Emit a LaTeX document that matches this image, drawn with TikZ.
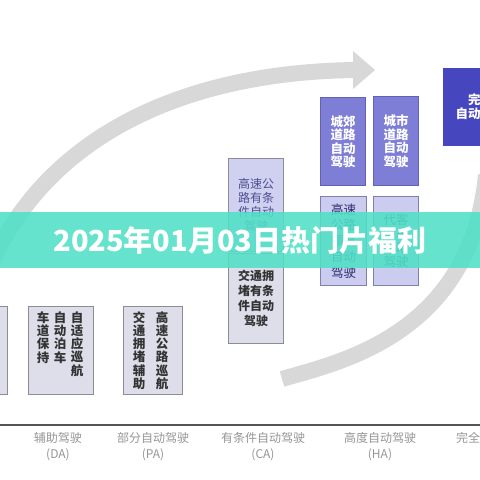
\documentclass[tikz,border=0pt]{standalone}
\usepackage{fontspec}
\setmainfont{Noto Sans CJK SC}
\definecolor{arcgray}{RGB}{216,216,216}
\definecolor{fadark}{RGB}{70,70,190}
\definecolor{hamid}{RGB}{126,126,214}
\definecolor{hamidline}{RGB}{98,98,178}
\definecolor{halight}{RGB}{204,204,240}
\definecolor{halightline}{RGB}{128,128,175}
\definecolor{hatext}{RGB}{45,45,110}
\definecolor{catop}{RGB}{208,208,240}
\definecolor{catext}{RGB}{78,78,145}
\definecolor{lowfill}{RGB}{222,222,234}
\definecolor{boxline}{RGB}{140,140,152}
\definecolor{labelgray}{RGB}{150,150,150}
\definecolor{axisgray}{RGB}{85,85,85}
\definecolor{bannerteal}{RGB}{80,224,198}
\tikzset{
  box/.style={draw=boxline, line width=1pt, fill=lowfill, rectangle, inner sep=0pt, anchor=north west, align=center},
  vcol/.style={inner sep=0pt, align=center, text=black!80, font=\fontsize{12.5}{13.2}\selectfont\bfseries},
  lvl/.style={inner sep=0pt, text=labelgray, font=\fontsize{12}{13}\selectfont},
}
\begin{document}
\begin{tikzpicture}[x=1pt,y=-1pt]
\useasboundingbox (0,0) rectangle (480,480);
\clip (0,0) rectangle (480,480);
\fill[white] (0,0) rectangle (480,480);
% arcs
\coordinate (a0) at (-8,262);
\coordinate (a1) at (356,70);
\draw[arcgray, line width=16pt] (a0) .. controls (50,135) and (185,72) .. (a1);
\fill[arcgray] (353,51) -- (375,70) -- (353,89) -- cycle;
\coordinate (b0) at (282,379);
\coordinate (b1) at (486,175);
\draw[arcgray, line width=16pt] (b0) .. controls (340,362) and (470,335) .. (b1);
% axis
\coordinate (x0) at (0,425);
\coordinate (x1) at (480,425);
\draw[axisgray, line width=2pt] (x0) -- (x1);
% low boxes
\node[box, minimum width=57pt, minimum height=88pt] (lbox) at (-50,306) {};
\node[box, minimum width=65pt, minimum height=88pt] (da) at (28,306) {};
\node[vcol] (da1) at (77,344) {自\\适\\应\\巡\\航};
\node[vcol] (da2) at (60,337.5) {自\\动\\泊\\车};
\node[vcol] (da3) at (43,337.5) {车\\道\\保\\持};
\node[box, minimum width=59pt, minimum height=88pt] (pa) at (123,306) {};
\node[vcol] (pa1) at (162,350.5) {高\\速\\公\\路\\巡\\航};
\node[vcol] (pa2) at (139,350.5) {交\\通\\拥\\堵\\辅\\助};
% CA boxes
\node[box, fill=catop, minimum width=55pt, minimum height=93pt, text=catext,
      font=\fontsize{12}{14.2}\selectfont] (ca1) at (228,158) {高速公\\路有条\\件自动\\驾驶};
\node[box, minimum width=55pt, minimum height=90pt, text=black!80,
      font=\fontsize{12}{15}\selectfont\bfseries] (ca2) at (228,253) {交通拥\\堵有条\\件自动\\驾驶};
% HA boxes
\node[box, draw=hamidline, fill=hamid, minimum width=45pt, minimum height=88pt, text=white,
      font=\fontsize{12.5}{13.5}\selectfont\bfseries] (ha1) at (320,97) {城郊\\道路\\自动\\驾驶};
\node[box, draw=hamidline, fill=hamid, minimum width=45pt, minimum height=89pt, text=white,
      font=\fontsize{12.5}{13.5}\selectfont\bfseries] (ha2) at (373,96) {城市\\道路\\自动\\驾驶};
\node[box, draw=halightline, fill=halight, minimum width=46pt, minimum height=89pt, text=hatext,
      font=\fontsize{12.5}{15.8}\selectfont] (ha3) at (320,196) {高速\\公路\\领航\\自动\\驾驶};
\node[box, draw=halightline, fill=halight, minimum width=45pt, minimum height=89pt, text=hatext,
      font=\fontsize{12.5}{14}\selectfont] (ha4) at (373,196) {代客\\泊车\\自动\\驾驶};
% FA box
\node[box, draw=fadark, fill=fadark, minimum width=74pt, minimum height=77pt, text=white,
      font=\fontsize{12.5}{14}\selectfont\bfseries] (fa) at (443,68) {完全\\自动驾驶};
% level labels
\node[lvl] (l1) at (58,438) {辅助驾驶};
\node[lvl] (l1b) at (58,455) {(DA)};
\node[lvl] (l2) at (153,438) {部分自动驾驶};
\node[lvl] (l2b) at (153,455) {(PA)};
\node[lvl] (l3) at (263,438) {有条件自动驾驶};
\node[lvl] (l3b) at (263,455) {(CA)};
\node[lvl] (l4) at (380,438) {高度自动驾驶};
\node[lvl] (l4b) at (380,455) {(HA)};
\node[lvl, anchor=west] (l5) at (456,438) {完全自动驾驶};
% banner
\fill[bannerteal, opacity=0.88] (0,212) rectangle (480,268);
\node[inner sep=0pt, text=white, font=\fontsize{29}{30}\selectfont\bfseries] (title) at (240,240) {2025年01月03日热门片福利};
\end{tikzpicture}
\end{document}
